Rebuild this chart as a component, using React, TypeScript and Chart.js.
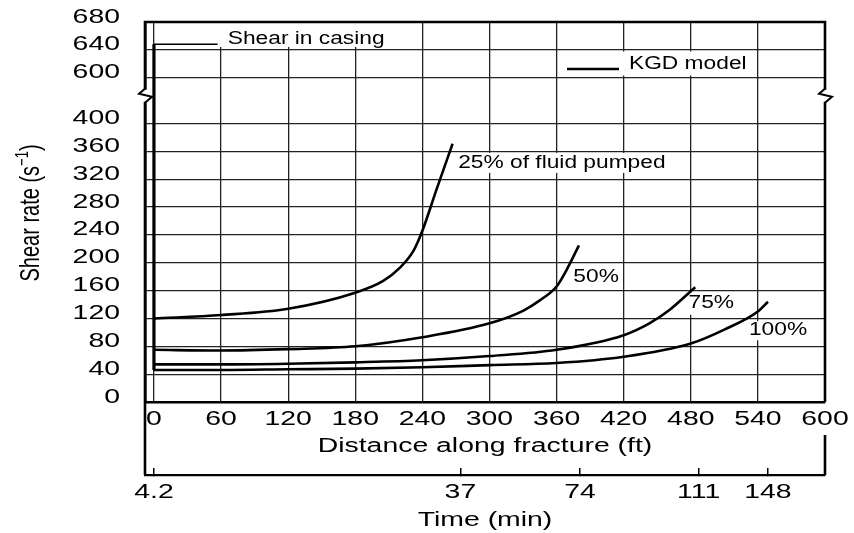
import React, { useEffect, useRef } from "react";
import { Chart, registerables } from "chart.js";

Chart.register(...registerables);

// ---------- data ----------
const distanceTicks = [0, 60, 120, 180, 240, 300, 360, 420, 480, 540, 600];
const shearTicks = [0, 40, 80, 120, 160, 200, 240, 280, 320, 360, 400, 600, 640, 680];
const timeTickDistances = [0, 274, 381, 487, 549];
const timeTickLabels = ["4.2", "37", "74", "111", "148"];

const dist25 = [0, 60, 120, 180, 205, 220, 232, 240, 253, 267];
const shear25 = [120, 125, 134, 157, 174, 193, 217, 246, 307, 371];
const dist50 = [0, 60, 120, 180, 240, 300, 330, 345, 360, 369, 380];
const shear50 = [75, 74, 76, 80, 93, 113, 131, 146, 166, 190, 225];
const dist75 = [0, 60, 120, 180, 240, 300, 360, 420, 443, 460, 484];
const shear75 = [54, 54, 55, 57, 60, 66, 75, 96, 113, 131, 165];
const dist100 = [0, 60, 120, 180, 240, 300, 360, 420, 480, 510, 540, 549];
const shear100 = [46, 46, 47, 48, 50, 53, 56, 65, 84, 104, 130, 144];
const casingDist = [0, 0];
const casingShear = [46, 648];
const leaderDist = [0, 57];
const leaderShear = [648, 648];

// axis break: values from 600 upward are drawn just above 400
const BREAK_LOW = 400;
const BREAK_HIGH = 600;
const BREAK_SHIFT = 134;
const brk = (v: number) => (v >= BREAK_HIGH ? v - BREAK_SHIFT : v);
const unbrk = (v: number) => (v > BREAK_LOW ? v + BREAK_SHIFT : v);

const notes = [
  { text: "Shear in casing", x: 66, y: 657, box: [10, 35, 15, 9] },
  { text: "25% of fluid pumped", x: 272, y: 345, box: [8, 8, 9, 11] },
  { text: "50%", x: 375, y: 181, box: null },
  { text: "75%", x: 478, y: 144, box: [3, 3, 9, 13] },
  { text: "100%", x: 532, y: 106, box: [3, 3, 7, 12] },
];
const legendText = "KGD model";

const FAMILY = '"Liberation Sans", Arial, Helvetica, sans-serif';
const TXT_FONT = "17.5px " + FAMILY;
const NOTE_SX = 1.3;
const AXIS_SX = 1.42;
const TICK_FONT = { family: FAMILY, size: 20 };

const pts = (xs: number[], ys: number[]) => xs.map((x, i) => ({ x, y: brk(ys[i]) }));

// horizontally widened text (the reference lettering is stretched)
function patchCtx(ctx: any) {
  if (ctx.__rawFillText) return;
  const raw = ctx.fillText;
  ctx.__rawFillText = raw;
  ctx.__sx = AXIS_SX;
  ctx.fillText = function (text: string, x: number, y: number, maxWidth?: number) {
    const sx = this.__sx || 1;
    this.save();
    this.translate(x, y);
    this.scale(sx, 1);
    if (maxWidth === undefined || maxWidth === null) raw.call(this, text, 0, 0);
    else raw.call(this, text, 0, 0, maxWidth / sx);
    this.restore();
  };
}

function drawNote(ctx: any, text: string, x: number, cy: number) {
  ctx.save();
  const prev = ctx.__sx;
  ctx.__sx = NOTE_SX;
  ctx.font = TXT_FONT;
  ctx.textAlign = "left";
  ctx.textBaseline = "alphabetic";
  ctx.fillStyle = "#000";
  ctx.fillText(text, x, cy + 6.3);
  ctx.__sx = prev;
  ctx.restore();
}

function noteWidth(ctx: any, text: string) {
  ctx.save();
  ctx.font = TXT_FONT;
  const w = ctx.measureText(text).width * NOTE_SX;
  ctx.restore();
  return w;
}

function drawBreak(ctx: any, x: number, y: number) {
  ctx.save();
  ctx.fillStyle = "#fff";
  ctx.fillRect(x - 3, y - 6, 6, 12);
  ctx.strokeStyle = "#000";
  ctx.lineWidth = 2;
  ctx.beginPath();
  ctx.moveTo(x, y - 7);
  ctx.lineTo(x - 6, y - 2);
  ctx.lineTo(x + 7, y + 1);
  ctx.lineTo(x, y + 7);
  ctx.stroke();
  ctx.restore();
}

const decor = {
  id: "decor",
  beforeDraw(chart: any) {
    chart.ctx.__sx = AXIS_SX;
  },
  beforeDatasetsDraw(chart: any) {
    const ctx = chart.ctx;
    const xs = chart.scales.x;
    const ys = chart.scales.y;
    const ca = chart.chartArea;
    ctx.save();
    ctx.fillStyle = "#fff";
    for (const n of notes) {
      if (!n.box) continue;
      const px = xs.getPixelForValue(n.x);
      const py = ys.getPixelForValue(brk(n.y));
      const w = noteWidth(ctx, n.text);
      ctx.fillRect(px - n.box[0], py - n.box[2], w + n.box[0] + n.box[1], n.box[2] + n.box[3]);
    }
    // legend background
    ctx.fillRect(ca.right - 260, ca.top + 29.5, 188, 24);
    ctx.restore();
  },
  afterDraw(chart: any) {
    const ctx = chart.ctx;
    const xs = chart.scales.x;
    const ys = chart.scales.y;
    const x2 = chart.scales.x2;
    const ca = chart.chartArea;

    for (const n of notes) {
      drawNote(ctx, n.text, xs.getPixelForValue(n.x), ys.getPixelForValue(brk(n.y)));
    }

    // legend
    ctx.save();
    ctx.strokeStyle = "#000";
    ctx.lineWidth = 2.6;
    ctx.beginPath();
    ctx.moveTo(ca.right - 258, ca.top + 47);
    ctx.lineTo(ca.right - 206, ca.top + 47);
    ctx.stroke();
    ctx.restore();
    drawNote(ctx, legendText, ca.right - 196, ca.top + 41);

    // frame
    ctx.save();
    ctx.strokeStyle = "#000";
    ctx.lineWidth = 2.6;
    ctx.beginPath();
    ctx.moveTo(ca.left, x2.top);
    ctx.lineTo(ca.left, ca.top);
    ctx.lineTo(ca.right, ca.top);
    ctx.lineTo(ca.right, ca.bottom);
    ctx.moveTo(ca.right, x2.top - 40);
    ctx.lineTo(ca.right, x2.top);
    ctx.stroke();
    ctx.restore();

    // axis break marks
    const by = ys.getPixelForValue(440);
    drawBreak(ctx, ca.left, by);
    drawBreak(ctx, ca.right, by);

    // y-axis title with superscript (rotated, widened across the page)
    ctx.save();
    const prev = ctx.__sx;
    ctx.__sx = 1;
    ctx.fillStyle = "#000";
    const main = "Shear rate (s";
    const sup = "\u22121";
    const close = ")";
    const f1 = "20px " + FAMILY;
    const f2 = "13px " + FAMILY;
    ctx.font = f1;
    const w1 = ctx.measureText(main).width;
    const w3 = ctx.measureText(close).width;
    ctx.font = f2;
    const w2 = ctx.measureText(sup).width;
    const total = w1 + w2 + w3;
    ctx.translate(39, (ca.top + ca.bottom) / 2 + 1);
    ctx.scale(1.4, 1);
    ctx.rotate(-Math.PI / 2);
    ctx.textAlign = "left";
    ctx.textBaseline = "alphabetic";
    let cx = -total / 2;
    ctx.font = f1;
    ctx.fillText(main, cx, 0);
    cx += w1;
    ctx.font = f2;
    ctx.fillText(sup, cx, -8);
    cx += w2;
    ctx.font = f1;
    ctx.fillText(close, cx, 0);
    ctx.__sx = prev;
    ctx.restore();
  },
};

export default function App() {
  const ref = useRef<HTMLCanvasElement | null>(null);

  useEffect(() => {
    const canvas = ref.current;
    if (!canvas) return;
    patchCtx(canvas.getContext("2d"));

    const line = (label: string, data: any[], width = 2.6, smooth = true) => ({
      label,
      data,
      borderColor: "#000",
      backgroundColor: "#000",
      borderWidth: width,
      pointRadius: 0,
      fill: false,
      tension: smooth ? 0.4 : 0,
      cubicInterpolationMode: smooth ? "monotone" : "default",
    });

    const noPad = (s: any) => {
      s.paddingTop = 0;
      s.paddingBottom = 0;
      s.paddingLeft = 0;
      s.paddingRight = 0;
    };

    const chart = new Chart(canvas, {
      type: "line",
      data: {
        datasets: [
          line("Shear in casing", pts(casingDist, casingShear), 3.2, false),
          line("Shear in casing (leader)", pts(leaderDist, leaderShear), 1.3, false),
          line("25% of fluid pumped", pts(dist25, shear25)),
          line("50%", pts(dist50, shear50)),
          line("75%", pts(dist75, shear75)),
          line("100%", pts(dist100, shear100)),
        ] as any,
      },
      options: {
        responsive: false,
        animation: false,
        layout: { padding: { left: 0, top: 22, right: 29, bottom: 0 } },
        plugins: { legend: { display: false }, tooltip: { enabled: false } },
        scales: {
          x: {
            type: "linear",
            position: "bottom",
            min: -8,
            max: 600,
            afterBuildTicks: (s: any) => {
              s.ticks = distanceTicks.map((v) => ({ value: v }));
            },
            afterFit: (s: any) => {
              s.height = 73;
              noPad(s);
            },
            ticks: {
              autoSkip: false,
              maxRotation: 0,
              minRotation: 0,
              padding: 5,
              color: "#000",
              font: TICK_FONT,
              callback: (v: any) => String(v),
            },
            grid: { color: "#222", lineWidth: 1.3, drawTicks: false },
            border: { color: "#000", width: 2.6 },
            title: {
              display: true,
              text: "Distance along fracture (ft)",
              color: "#000",
              font: TICK_FONT,
              padding: { top: 0, bottom: 17 },
            },
          },
          x2: {
            type: "linear",
            position: "bottom",
            weight: 1,
            min: -8,
            max: 600,
            afterBuildTicks: (s: any) => {
              s.ticks = timeTickDistances.map((v) => ({ value: v }));
            },
            afterFit: (s: any) => {
              s.height = 58;
              noPad(s);
            },
            ticks: {
              autoSkip: false,
              maxRotation: 0,
              minRotation: 0,
              padding: 12,
              color: "#000",
              font: TICK_FONT,
              callback: (_v: any, i: number) => timeTickLabels[i],
            },
            grid: {
              drawOnChartArea: false,
              drawTicks: true,
              tickLength: -7,
              color: "#000",
              lineWidth: 1.5,
            },
            border: { color: "#000", width: 2.2 },
            title: {
              display: true,
              text: "Time (min)",
              color: "#000",
              font: TICK_FONT,
              padding: { top: 0, bottom: 1 },
            },
          },
          y: {
            type: "linear",
            min: 0,
            max: brk(680),
            afterBuildTicks: (s: any) => {
              s.ticks = shearTicks.map((v) => ({ value: brk(v) }));
            },
            afterFit: (s: any) => {
              s.width = 145;
              noPad(s);
            },
            ticks: {
              autoSkip: false,
              padding: 25,
              labelOffset: -5,
              color: "#000",
              font: TICK_FONT,
              callback: (v: any) => String(unbrk(Number(v))),
            },
            grid: { color: "#222", lineWidth: 1.3, drawTicks: false },
            border: { color: "#000", width: 2.6 },
            title: { display: false },
          },
        },
      } as any,
      plugins: [decor],
    });
    return () => chart.destroy();
  }, []);

  return (
    <div style={{ position: "absolute", left: 0, top: 0, width: 854, height: 533, background: "#fff" }}>
      <canvas ref={ref} width={854} height={533} style={{ display: "block" }} />
    </div>
  );
}
